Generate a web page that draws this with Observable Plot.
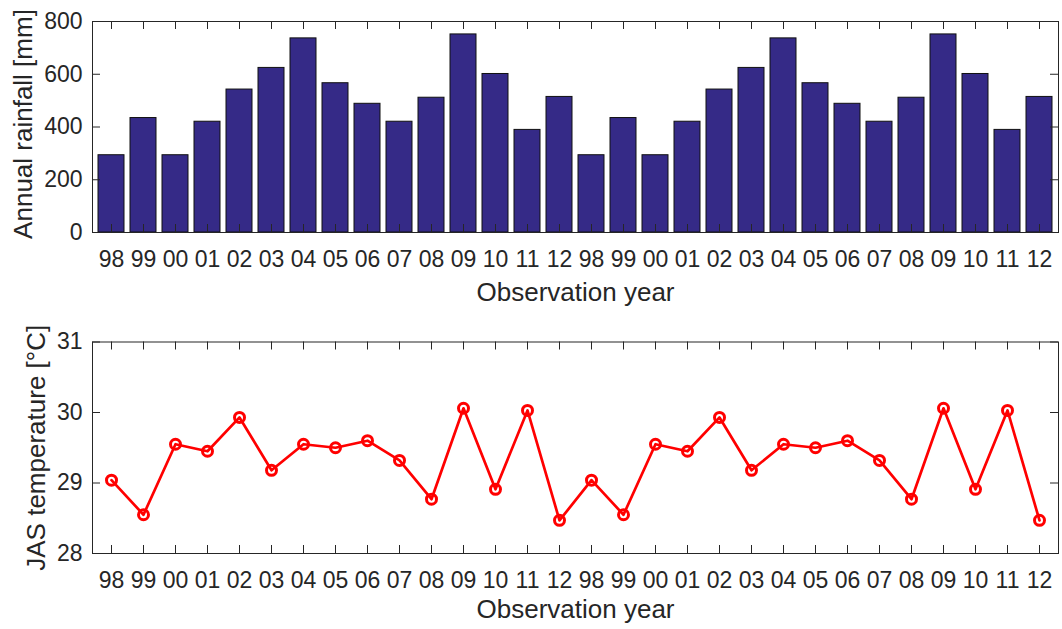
<!DOCTYPE html>
<html><head><meta charset="utf-8">
<script src="https://cdn.jsdelivr.net/npm/d3@7"></script>
<script src="https://cdn.jsdelivr.net/npm/@observablehq/plot@0.6"></script>
<style>
body{margin:0;background:#fff;}
#chart{width:1062px;}
#chart svg{display:block;}
</style></head><body><div id="chart"></div>
<script>
const yearLabels = ["98","99","00","01","02","03","04","05","06","07","08","09","10","11","12",
                    "98","99","00","01","02","03","04","05","06","07","08","09","10","11","12"];
const rainfall = [293,434,293,420,542,624,736,566,488,420,511,751,601,389,514,
                  293,434,293,420,542,624,736,566,488,420,511,751,601,389,514];
const temperature = [29.04,28.55,29.55,29.45,29.93,29.18,29.55,29.50,29.60,29.32,28.77,30.06,28.91,30.03,28.47,
                     29.04,28.55,29.55,29.45,29.93,29.18,29.55,29.50,29.60,29.32,28.77,30.06,28.91,30.03,28.47];
const rainTicks = [0,200,400,600,800];
const tempTicks = [28,29,30,31];
const rainLabel = "Annual rainfall [mm]";
const tempLabel = "JAS temperature [°C]";
const xLabel = "Observation year";

const idx = yearLabels.map((_, i) => i);
const W = 1062, ML = 92, MR = 4;
const ink = "#262626";
const font = "'Liberation Sans', Arial, Helvetica, sans-serif";
const tickFs = 23, labelFs = 26, tickLen = 8;
const plotW = W - ML - MR;
const intFmt = d3.format("d");

function frameTicks(xTicks, yTicks, plotH) {
  return [
    Plot.tickX(xTicks, {x: d => d, insetTop: plotH - tickLen, stroke: ink, strokeWidth: 1}),
    Plot.tickX(xTicks, {x: d => d, insetBottom: plotH - tickLen, stroke: ink, strokeWidth: 1}),
    Plot.tickY(yTicks, {y: d => d, insetRight: plotW - tickLen, stroke: ink, strokeWidth: 1}),
    Plot.tickY(yTicks, {y: d => d, insetLeft: plotW - tickLen, stroke: ink, strokeWidth: 1})
  ];
}

// Top: rainfall bars
const topH = 315, topMT = 21, topMB = 83;
const topPlotH = topH - topMT - topMB;
const topChart = Plot.plot({
  width: W, height: topH, marginLeft: ML, marginRight: MR, marginTop: topMT, marginBottom: topMB,
  style: {fontFamily: font, fontSize: tickFs + "px", color: ink, background: "white", overflow: "visible"},
  x: {type: "band", domain: idx, paddingInner: 0.2, paddingOuter: 0.1, align: 0.5, axis: null},
  y: {domain: [0, 800], axis: null},
  marks: [
    Plot.barY(idx, {x: i => i, y: i => rainfall[i], fill: "#352a87", stroke: "#111", strokeWidth: 1}),
    Plot.frame({stroke: ink, strokeWidth: 1}),
    ...frameTicks(idx, rainTicks, topPlotH),
    Plot.axisX(idx, {tickSize: 0, tickPadding: 18, tickFormat: i => yearLabels[i], label: null, fontSize: tickFs, fill: ink}),
    Plot.axisY(rainTicks, {tickSize: 0, tickPadding: 10, tickFormat: intFmt, label: null, fontSize: tickFs, fill: ink}),
    Plot.text([xLabel], {frameAnchor: "bottom", dy: 60, lineAnchor: "middle", textAnchor: "middle", fontSize: labelFs, fill: ink}),
    Plot.text([rainLabel], {frameAnchor: "left", rotate: -90, dx: -68.5, dy: -3, lineAnchor: "middle", textAnchor: "middle", fontSize: labelFs, fill: ink})
  ]
});

// Bottom: temperature line
const botH = 314, botMT = 26.5, botMB = 76;
const botPlotH = botH - botMT - botMB;
const botChart = Plot.plot({
  width: W, height: botH, marginLeft: ML, marginRight: MR, marginTop: botMT, marginBottom: botMB,
  style: {fontFamily: font, fontSize: tickFs + "px", color: ink, background: "white", overflow: "visible"},
  x: {type: "point", domain: idx, padding: 0.5, axis: null},
  y: {domain: [28, 31], axis: null},
  marks: [
    Plot.frame({stroke: ink, strokeWidth: 1}),
    ...frameTicks(idx, tempTicks, botPlotH),
    Plot.line(idx, {x: i => i, y: i => temperature[i], stroke: "#ff0000", strokeWidth: 2.7}),
    Plot.dot(idx, {x: i => i, y: i => temperature[i], r: 5, stroke: "#ff0000", strokeWidth: 3, fill: "none"}),
    Plot.axisX(idx, {tickSize: 0, tickPadding: 18, tickFormat: i => yearLabels[i], label: null, fontSize: tickFs, fill: ink}),
    Plot.axisY(tempTicks, {tickSize: 0, tickPadding: 10, tickFormat: intFmt, label: null, fontSize: tickFs, fill: ink}),
    Plot.text([xLabel], {frameAnchor: "bottom", dy: 56, lineAnchor: "middle", textAnchor: "middle", fontSize: labelFs, fill: ink}),
    Plot.text([tempLabel], {frameAnchor: "left", rotate: -90, dx: -55.5, lineAnchor: "middle", textAnchor: "middle", fontSize: labelFs, fill: ink})
  ]
});

const host = document.getElementById("chart");
host.appendChild(topChart);
host.appendChild(botChart);
</script>
</body></html>
